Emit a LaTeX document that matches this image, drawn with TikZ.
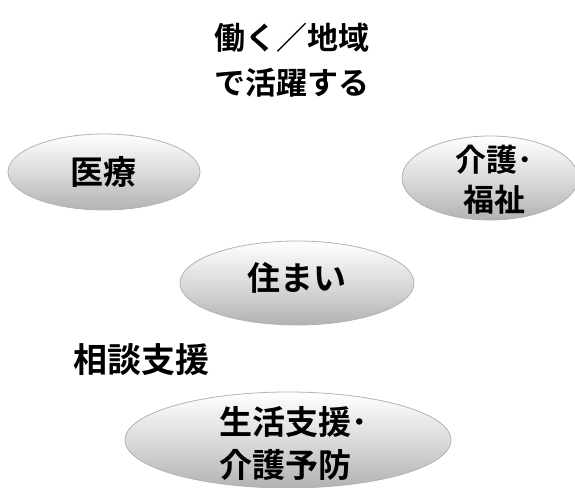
\documentclass[tikz,border=0pt]{standalone}
\usepackage{fontspec}
\newfontfamily\jp{Noto Sans CJK JP}[BoldFont={Noto Sans CJK JP Bold}]
\begin{document}
\begin{tikzpicture}[x=1pt,y=-1pt,
  blob/.style={draw=gray!60,line width=0.8pt,top color=white,bottom color=gray!60,middle color=gray!28},
  lbl/.style={font=\jp\bfseries\fontsize{33}{44}\selectfont,align=center,text=black,inner sep=0pt}]
\useasboundingbox (0,0) rectangle (575,487);
\begin{scope}
\clip (0,0) rectangle (575,487);
\path[blob] (104,172) ellipse [x radius=96,y radius=38];
\path[blob] (490,178) ellipse [x radius=88,y radius=42];
\path[blob] (297,283) ellipse [x radius=117,y radius=42];
\path[blob] (288,440) ellipse [x radius=163,y radius=48];
\end{scope}
\node[lbl,font=\jp\bfseries\fontsize{31}{45}\selectfont] (title) at (292,60) {働く／地域\\で活躍する};
\node[lbl] (iryo) at (103,172) {医療};
\node[lbl,font=\jp\bfseries\fontsize{31}{40}\selectfont] (kaigo) at (494,180) {介護･\\福祉};
\node[lbl] (sumai) at (297,278) {住まい};
\node[lbl,font=\jp\bfseries\fontsize{34}{44}\selectfont] (sodan) at (141,360) {相談支援};
\node[lbl,align=left,anchor=west,font=\jp\bfseries\fontsize{33}{43}\selectfont] (seikatsu) at (219,443) {生活支援･\\介護予防};
\end{tikzpicture}
\end{document}
